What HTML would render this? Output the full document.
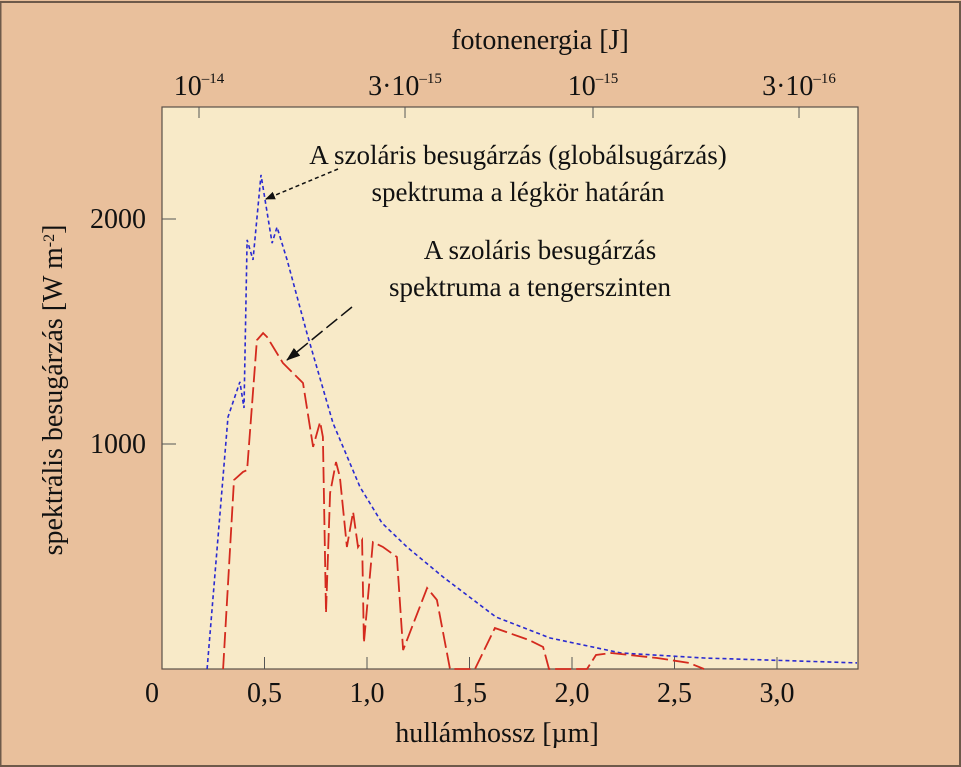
<!DOCTYPE html>
<html><head><meta charset="utf-8"><style>
html,body{margin:0;padding:0;background:#e9c09c;}
svg{display:block;font-family:"Liberation Serif",serif;}
</style></head><body>
<svg id="chart" width="961" height="767" viewBox="0 0 961 767">
<rect x="0.5" y="2" width="959.5" height="764" fill="#e9c09c" stroke="#6e5a4a" stroke-width="2"/>
<rect x="162" y="107" width="696" height="562" fill="#f8eac8" stroke="#5a5048" stroke-width="1.2"/>
<g id="axes"></g>
<g id="series"></g>
<text x="540" y="49" font-size="28" text-anchor="middle" fill="#111">fotonenergia [J]</text>
<text x="497" y="742" font-size="28" text-anchor="middle" fill="#111">hullámhossz [µm]</text>
<text transform="translate(62,390) rotate(-90)" font-size="28" text-anchor="middle" fill="#111">spektrális besugárzás [W m<tspan baseline-shift="super" font-size="16">-2</tspan>]</text>
<g font-size="27" fill="#111" text-anchor="middle">
<text x="518" y="164">A szoláris besugárzás (globálsugárzás)</text>
<text x="518" y="201">spektruma a légkör határán</text>
<text x="540" y="259">A szoláris besugárzás</text>
<text x="530" y="296">spektruma a tengerszinten</text>
</g>
<defs><marker id="ah" markerWidth="10" markerHeight="8" refX="9" refY="4" orient="auto" markerUnits="userSpaceOnUse"><path d="M0,0 L10,4 L0,8 Z" fill="#111"/></marker>
<marker id="ah2" markerWidth="14" markerHeight="10" refX="13" refY="5" orient="auto" markerUnits="userSpaceOnUse"><path d="M0,0 L14,5 L0,10 Z" fill="#111"/></marker></defs>
<line x1="338" y1="169" x2="266" y2="199" stroke="#111" stroke-width="1.5" stroke-dasharray="4,3" marker-end="url(#ah)"/>
<line x1="352" y1="307" x2="287" y2="360" stroke="#111" stroke-width="1.5" stroke-dasharray="14,5" marker-end="url(#ah2)"/>
</svg>
<script>
const xTicks = [0, 0.5, 1.0, 1.5, 2.0, 2.5, 3.0];
const xTickLabels = ["0", "0,5", "1,0", "1,5", "2,0", "2,5", "3,0"];
const yTicks = [1000, 2000];
const yTickLabels = ["1000", "2000"];
const energyTicks = [1e-14, 3e-15, 1e-15, 3e-16];
const energyBases = ["10", "3·10", "10", "3·10"];
const energyExps = ["–14", "–15", "–15", "–16"];
const toaWavelength = [0.22,0.322,0.38,0.40,0.415,0.444,0.483,0.537,0.561,0.61,0.707,0.834,0.966,1.073,1.195,1.371,1.629,1.893,2.239,2.644,3.39];
const toaIrradiance = [0,1120,1276,1160,1907,1818,2196,1893,1964,1818,1493,1093,809,649,542,409,231,138,71,49,27];
const seaWavelength = [0.298,0.351,0.395,0.415,0.463,0.493,0.512,0.59,0.688,0.737,0.771,0.785,0.8,0.82,0.849,0.868,0.902,0.932,0.956,0.976,0.985,1.029,1.078,1.146,1.176,1.293,1.341,1.405,1.527,1.624,1.79,1.859,1.888,2.073,2.117,2.19,2.415,2.571,2.644];
const seaIrradiance = [0,840,876,884,1462,1493,1476,1360,1271,987,1098,1031,249,782,920,853,542,698,542,573,116,564,542,498,84,360,307,0,0,182,129,98,0,0,62,71,49,27,0];

const NS="http://www.w3.org/2000/svg";
const X0=162, XR=858, YB=669, PX=205, PY=0.225;
const sx=v=>X0+v*PX, sy=v=>YB-v*PY;
// energy axis: E = hc/λ ; position fitted so 1e-14 -> x≈199 (log scale top axis)
const se=e=>199+(Math.log10(1e-14)-Math.log10(e))*(593-199);
function mk(tag,attrs,parent){const el=document.createElementNS(NS,tag);for(const k in attrs)el.setAttribute(k,attrs[k]);parent.appendChild(el);return el;}
const axes=document.getElementById('axes'), series=document.getElementById('series');
xTicks.forEach((t,i)=>{
  if(t>0){const l=mk('line',{x1:sx(t),x2:sx(t),y1:YB,y2:YB-12,stroke:'#555','stroke-width':1},axes);
  
  }
  const tx=mk('text',{x:t===0?152:sx(t),y:702,'font-size':28,'text-anchor':'middle',fill:'#111'},axes);
  tx.textContent=xTickLabels[i];
  
  
});
yTicks.forEach((t,i)=>{
  const l=mk('line',{x1:X0,x2:X0+14,y1:sy(t),y2:sy(t),stroke:'#555','stroke-width':1},axes);
  
  
  const tx=mk('text',{x:146,y:sy(t)+9,'font-size':28,'text-anchor':'end',fill:'#111'},axes);
  tx.textContent=yTickLabels[i];
  
  
});
energyTicks.forEach((e,i)=>{
  const x=se(e);
  const l=mk('line',{x1:x,x2:x,y1:107,y2:118,stroke:'#555','stroke-width':1},axes);
  
  
  const tx=mk('text',{x:x,y:95,'font-size':28,'text-anchor':'middle',fill:'#111'},axes);
  
  
  const a=mk('tspan',{},tx);a.textContent=energyBases[i];
  const b=mk('tspan',{'font-size':15,dy:-12},tx);b.textContent=energyExps[i];
});
function path(xs,ys){return xs.map((v,i)=>(i?'L':'M')+sx(v).toFixed(1)+','+sy(ys[i]).toFixed(1)).join(' ');}
const toa=mk('path',{d:path(toaWavelength,toaIrradiance),fill:'none',stroke:'#2a2ad0','stroke-width':1.6,'stroke-dasharray':'4,3'},series);


const sea=mk('path',{d:path(seaWavelength,seaIrradiance),fill:'none',stroke:'#d42a1e','stroke-width':1.8,'stroke-dasharray':'16,5'},series);


</script>
</body></html>
